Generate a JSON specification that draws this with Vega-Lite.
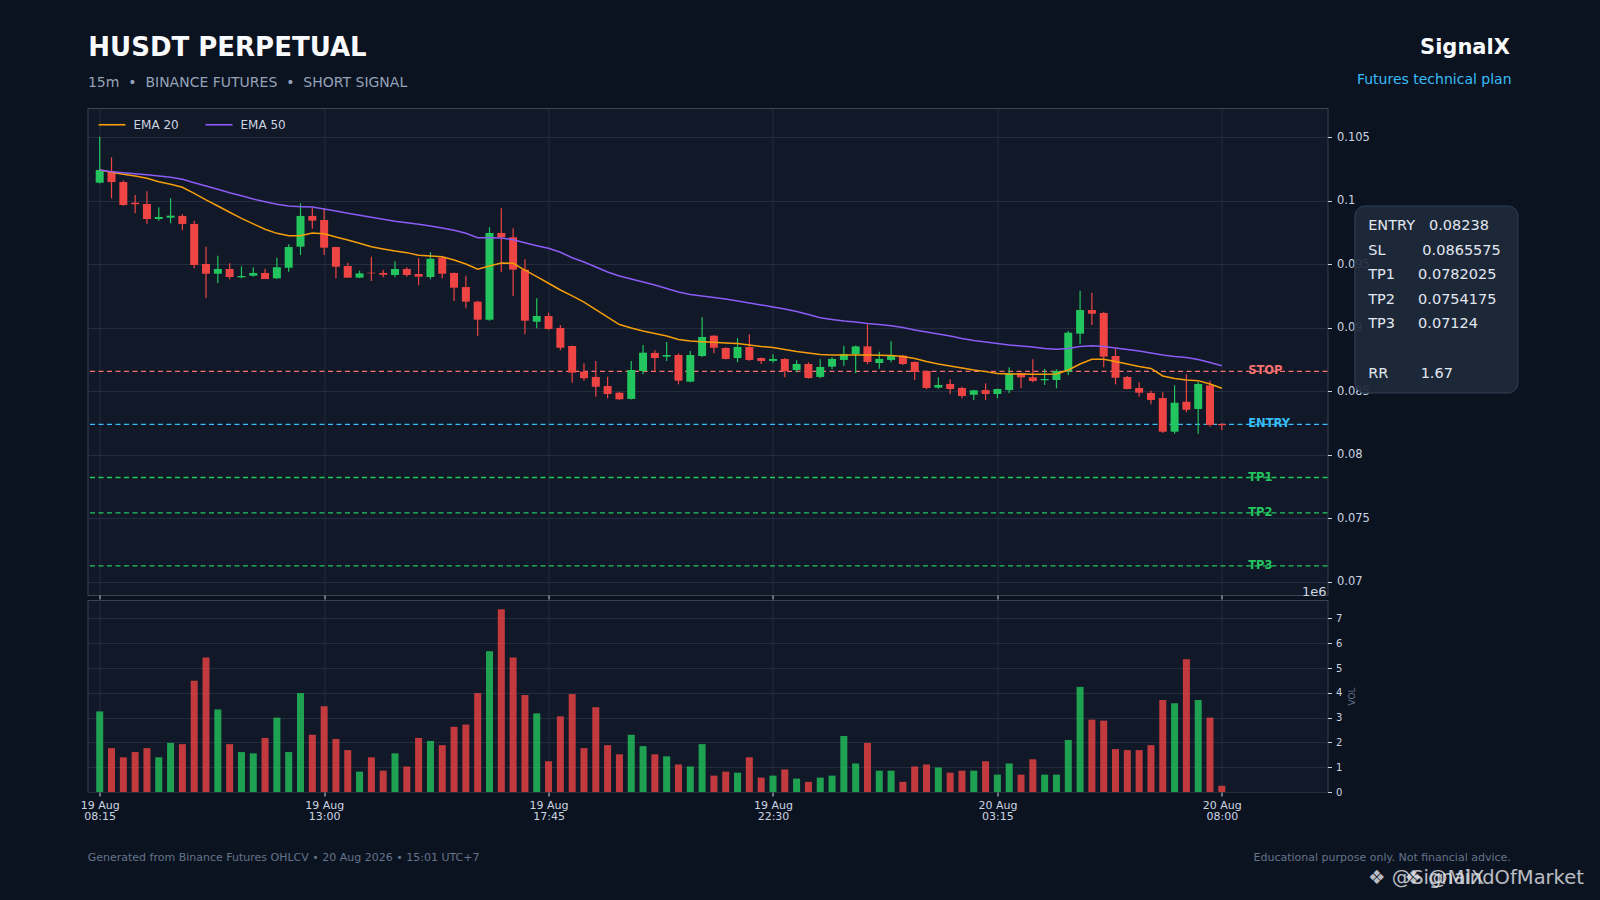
{
  "$schema": "https://vega.github.io/schema/vega-lite/v6.json",
  "background": "#0b1220",
  "padding": {"left": 79.5, "top": 34, "right": 15, "bottom": 20},
  "bounds": "flush",
  "config": {
    "font": "DejaVu Sans",
    "view": {"fill": "#111827", "stroke": "#384357", "strokeWidth": 1},
    "scale": {"continuousPadding": 0},
    "axis": {"domain": false, "gridColor": "#232d3d", "tickColor": "#cbd5e1", "tickSize": 4, "labelColor": "#cbd5e1", "labelFont": "DejaVu Sans", "titleFont": "DejaVu Sans"},
    "concat": {"spacing": 5}
  },
  "datasets": {
    "candles": [
      {"time": "2026-08-19T08:15:00Z", "open": 0.10142, "high": 0.10504, "low": 0.10135, "close": 0.10242, "volume": 3250000, "ema20": 0.10242, "ema50": 0.10242},
      {"time": "2026-08-19T08:30:00Z", "open": 0.10234, "high": 0.10342, "low": 0.10019, "close": 0.10147, "volume": 1770000, "ema20": 0.10224, "ema50": 0.10228},
      {"time": "2026-08-19T08:45:00Z", "open": 0.10147, "high": 0.1016, "low": 0.0996, "close": 0.09966, "volume": 1400000, "ema20": 0.10208, "ema50": 0.1022},
      {"time": "2026-08-19T09:00:00Z", "open": 0.09984, "high": 0.10045, "low": 0.09901, "close": 0.09972, "volume": 1610000, "ema20": 0.10194, "ema50": 0.10213},
      {"time": "2026-08-19T09:15:00Z", "open": 0.09974, "high": 0.10074, "low": 0.09819, "close": 0.09856, "volume": 1770000, "ema20": 0.10176, "ema50": 0.10205},
      {"time": "2026-08-19T09:30:00Z", "open": 0.09856, "high": 0.09948, "low": 0.09843, "close": 0.09872, "volume": 1400000, "ema20": 0.1015, "ema50": 0.10194},
      {"time": "2026-08-19T09:45:00Z", "open": 0.09866, "high": 0.10019, "low": 0.09822, "close": 0.09882, "volume": 1980000, "ema20": 0.10129, "ema50": 0.10184},
      {"time": "2026-08-19T10:00:00Z", "open": 0.0988, "high": 0.09893, "low": 0.09767, "close": 0.09817, "volume": 1930000, "ema20": 0.10106, "ema50": 0.10169},
      {"time": "2026-08-19T10:15:00Z", "open": 0.09817, "high": 0.09843, "low": 0.09468, "close": 0.09494, "volume": 4490000, "ema20": 0.10058, "ema50": 0.10142},
      {"time": "2026-08-19T10:30:00Z", "open": 0.09502, "high": 0.09638, "low": 0.09234, "close": 0.09425, "volume": 5430000, "ema20": 0.10006, "ema50": 0.10116},
      {"time": "2026-08-19T10:45:00Z", "open": 0.09425, "high": 0.09567, "low": 0.0935, "close": 0.09462, "volume": 3330000, "ema20": 0.09958, "ema50": 0.1009},
      {"time": "2026-08-19T11:00:00Z", "open": 0.09462, "high": 0.09507, "low": 0.09381, "close": 0.09399, "volume": 1930000, "ema20": 0.09909, "ema50": 0.10063},
      {"time": "2026-08-19T11:15:00Z", "open": 0.09397, "high": 0.09483, "low": 0.09389, "close": 0.09407, "volume": 1610000, "ema20": 0.09861, "ema50": 0.10039},
      {"time": "2026-08-19T11:30:00Z", "open": 0.09409, "high": 0.09476, "low": 0.09402, "close": 0.09431, "volume": 1560000, "ema20": 0.09817, "ema50": 0.10013},
      {"time": "2026-08-19T11:45:00Z", "open": 0.09431, "high": 0.09465, "low": 0.09383, "close": 0.09383, "volume": 2180000, "ema20": 0.09775, "ema50": 0.09992},
      {"time": "2026-08-19T12:00:00Z", "open": 0.09389, "high": 0.09551, "low": 0.09383, "close": 0.09476, "volume": 3000000, "ema20": 0.09743, "ema50": 0.09972},
      {"time": "2026-08-19T12:15:00Z", "open": 0.09472, "high": 0.09657, "low": 0.09441, "close": 0.09635, "volume": 1610000, "ema20": 0.09724, "ema50": 0.09958},
      {"time": "2026-08-19T12:30:00Z", "open": 0.09638, "high": 0.0998, "low": 0.09572, "close": 0.0988, "volume": 3990000, "ema20": 0.09724, "ema50": 0.09953},
      {"time": "2026-08-19T12:45:00Z", "open": 0.0988, "high": 0.09945, "low": 0.0978, "close": 0.09843, "volume": 2310000, "ema20": 0.09746, "ema50": 0.0995},
      {"time": "2026-08-19T13:00:00Z", "open": 0.09848, "high": 0.09943, "low": 0.09572, "close": 0.0963, "volume": 3460000, "ema20": 0.0974, "ema50": 0.09935},
      {"time": "2026-08-19T13:15:00Z", "open": 0.09635, "high": 0.09638, "low": 0.09389, "close": 0.0948, "volume": 2140000, "ema20": 0.09714, "ema50": 0.09919},
      {"time": "2026-08-19T13:30:00Z", "open": 0.09486, "high": 0.09512, "low": 0.09394, "close": 0.09394, "volume": 1690000, "ema20": 0.09691, "ema50": 0.09901},
      {"time": "2026-08-19T13:45:00Z", "open": 0.09394, "high": 0.09449, "low": 0.0939, "close": 0.09428, "volume": 820000, "ema20": 0.09665, "ema50": 0.09885},
      {"time": "2026-08-19T14:00:00Z", "open": 0.09433, "high": 0.09559, "low": 0.09368, "close": 0.09428, "volume": 1400000, "ema20": 0.09638, "ema50": 0.09869},
      {"time": "2026-08-19T14:15:00Z", "open": 0.09431, "high": 0.09454, "low": 0.09397, "close": 0.09417, "volume": 860000, "ema20": 0.0962, "ema50": 0.09854},
      {"time": "2026-08-19T14:30:00Z", "open": 0.09415, "high": 0.09523, "low": 0.09397, "close": 0.09462, "volume": 1560000, "ema20": 0.09604, "ema50": 0.09838},
      {"time": "2026-08-19T14:45:00Z", "open": 0.09462, "high": 0.09476, "low": 0.09402, "close": 0.09415, "volume": 1030000, "ema20": 0.09591, "ema50": 0.09827},
      {"time": "2026-08-19T15:00:00Z", "open": 0.09423, "high": 0.09546, "low": 0.09334, "close": 0.09402, "volume": 2180000, "ema20": 0.0957, "ema50": 0.09814},
      {"time": "2026-08-19T15:15:00Z", "open": 0.09399, "high": 0.09594, "low": 0.09381, "close": 0.09543, "volume": 2060000, "ema20": 0.09565, "ema50": 0.09801},
      {"time": "2026-08-19T15:30:00Z", "open": 0.09551, "high": 0.0956, "low": 0.09389, "close": 0.09425, "volume": 1890000, "ema20": 0.09559, "ema50": 0.09785},
      {"time": "2026-08-19T15:45:00Z", "open": 0.09431, "high": 0.09435, "low": 0.0921, "close": 0.09315, "volume": 2630000, "ema20": 0.09533, "ema50": 0.09767},
      {"time": "2026-08-19T16:00:00Z", "open": 0.0932, "high": 0.09409, "low": 0.09153, "close": 0.09205, "volume": 2720000, "ema20": 0.09502, "ema50": 0.09743},
      {"time": "2026-08-19T16:15:00Z", "open": 0.09205, "high": 0.09213, "low": 0.08935, "close": 0.09063, "volume": 3990000, "ema20": 0.0946, "ema50": 0.09709},
      {"time": "2026-08-19T16:30:00Z", "open": 0.09063, "high": 0.09791, "low": 0.09055, "close": 0.09746, "volume": 5680000, "ema20": 0.09486, "ema50": 0.09709},
      {"time": "2026-08-19T16:45:00Z", "open": 0.09746, "high": 0.0994, "low": 0.09439, "close": 0.09712, "volume": 7370000, "ema20": 0.09509, "ema50": 0.09706},
      {"time": "2026-08-19T17:00:00Z", "open": 0.09712, "high": 0.09783, "low": 0.0925, "close": 0.09457, "volume": 5430000, "ema20": 0.09507, "ema50": 0.09693},
      {"time": "2026-08-19T17:15:00Z", "open": 0.09457, "high": 0.09539, "low": 0.08948, "close": 0.09055, "volume": 3910000, "ema20": 0.09454, "ema50": 0.09669},
      {"time": "2026-08-19T17:30:00Z", "open": 0.09047, "high": 0.09231, "low": 0.08995, "close": 0.09092, "volume": 3170000, "ema20": 0.09402, "ema50": 0.09646},
      {"time": "2026-08-19T17:45:00Z", "open": 0.09092, "high": 0.09118, "low": 0.08982, "close": 0.0899, "volume": 1240000, "ema20": 0.0935, "ema50": 0.09625},
      {"time": "2026-08-19T18:00:00Z", "open": 0.08998, "high": 0.09021, "low": 0.08822, "close": 0.08842, "volume": 3050000, "ema20": 0.09297, "ema50": 0.09594},
      {"time": "2026-08-19T18:15:00Z", "open": 0.08856, "high": 0.0886, "low": 0.08567, "close": 0.08646, "volume": 3950000, "ema20": 0.0925, "ema50": 0.09551},
      {"time": "2026-08-19T18:30:00Z", "open": 0.08654, "high": 0.0872, "low": 0.08583, "close": 0.08602, "volume": 1770000, "ema20": 0.09202, "ema50": 0.09517},
      {"time": "2026-08-19T18:45:00Z", "open": 0.08612, "high": 0.08738, "low": 0.08457, "close": 0.08535, "volume": 3420000, "ema20": 0.09143, "ema50": 0.09478},
      {"time": "2026-08-19T19:00:00Z", "open": 0.08541, "high": 0.08614, "low": 0.08444, "close": 0.08478, "volume": 1890000, "ema20": 0.09084, "ema50": 0.09439},
      {"time": "2026-08-19T19:15:00Z", "open": 0.08488, "high": 0.08496, "low": 0.08431, "close": 0.08436, "volume": 1520000, "ema20": 0.09025, "ema50": 0.09407},
      {"time": "2026-08-19T19:30:00Z", "open": 0.08439, "high": 0.08738, "low": 0.08435, "close": 0.08667, "volume": 2310000, "ema20": 0.08998, "ema50": 0.09383},
      {"time": "2026-08-19T19:45:00Z", "open": 0.08659, "high": 0.08864, "low": 0.08633, "close": 0.08803, "volume": 1850000, "ema20": 0.08974, "ema50": 0.0936},
      {"time": "2026-08-19T20:00:00Z", "open": 0.08801, "high": 0.08822, "low": 0.08649, "close": 0.08761, "volume": 1520000, "ema20": 0.08954, "ema50": 0.09336},
      {"time": "2026-08-19T20:15:00Z", "open": 0.08772, "high": 0.08887, "low": 0.08738, "close": 0.08785, "volume": 1440000, "ema20": 0.08935, "ema50": 0.09309},
      {"time": "2026-08-19T20:30:00Z", "open": 0.08785, "high": 0.08798, "low": 0.08554, "close": 0.08583, "volume": 1110000, "ema20": 0.08907, "ema50": 0.09281},
      {"time": "2026-08-19T20:45:00Z", "open": 0.08575, "high": 0.08817, "low": 0.0857, "close": 0.08785, "volume": 1030000, "ema20": 0.08895, "ema50": 0.09261},
      {"time": "2026-08-19T21:00:00Z", "open": 0.08777, "high": 0.09082, "low": 0.0877, "close": 0.08927, "volume": 1930000, "ema20": 0.0889, "ema50": 0.0925},
      {"time": "2026-08-19T21:15:00Z", "open": 0.08937, "high": 0.0894, "low": 0.08798, "close": 0.08842, "volume": 660000, "ema20": 0.08885, "ema50": 0.09238},
      {"time": "2026-08-19T21:30:00Z", "open": 0.0884, "high": 0.08845, "low": 0.0875, "close": 0.08754, "volume": 820000, "ema20": 0.0888, "ema50": 0.09226},
      {"time": "2026-08-19T21:45:00Z", "open": 0.08761, "high": 0.08917, "low": 0.08728, "close": 0.08848, "volume": 780000, "ema20": 0.08876, "ema50": 0.0921},
      {"time": "2026-08-19T22:00:00Z", "open": 0.08848, "high": 0.08948, "low": 0.0874, "close": 0.08746, "volume": 1400000, "ema20": 0.08864, "ema50": 0.09194},
      {"time": "2026-08-19T22:15:00Z", "open": 0.08761, "high": 0.08765, "low": 0.08714, "close": 0.08738, "volume": 580000, "ema20": 0.08852, "ema50": 0.09179},
      {"time": "2026-08-19T22:30:00Z", "open": 0.08738, "high": 0.08791, "low": 0.08724, "close": 0.08754, "volume": 660000, "ema20": 0.08844, "ema50": 0.09163},
      {"time": "2026-08-19T22:45:00Z", "open": 0.08754, "high": 0.0876, "low": 0.08609, "close": 0.08659, "volume": 910000, "ema20": 0.08828, "ema50": 0.09147},
      {"time": "2026-08-19T23:00:00Z", "open": 0.08667, "high": 0.08743, "low": 0.08649, "close": 0.08714, "volume": 540000, "ema20": 0.08813, "ema50": 0.09128},
      {"time": "2026-08-19T23:15:00Z", "open": 0.08714, "high": 0.08727, "low": 0.08598, "close": 0.08604, "volume": 410000, "ema20": 0.08801, "ema50": 0.09104},
      {"time": "2026-08-19T23:30:00Z", "open": 0.08612, "high": 0.08751, "low": 0.08602, "close": 0.08691, "volume": 580000, "ema20": 0.08789, "ema50": 0.09079},
      {"time": "2026-08-19T23:45:00Z", "open": 0.08693, "high": 0.08767, "low": 0.08672, "close": 0.08754, "volume": 660000, "ema20": 0.08785, "ema50": 0.09065},
      {"time": "2026-08-20T00:00:00Z", "open": 0.08746, "high": 0.08858, "low": 0.08701, "close": 0.08793, "volume": 2260000, "ema20": 0.08785, "ema50": 0.09053},
      {"time": "2026-08-20T00:15:00Z", "open": 0.08793, "high": 0.0886, "low": 0.08641, "close": 0.08853, "volume": 1150000, "ema20": 0.08785, "ema50": 0.09045},
      {"time": "2026-08-20T00:30:00Z", "open": 0.08853, "high": 0.09027, "low": 0.08712, "close": 0.0873, "volume": 1980000, "ema20": 0.08785, "ema50": 0.09033},
      {"time": "2026-08-20T00:45:00Z", "open": 0.08722, "high": 0.08811, "low": 0.08677, "close": 0.08754, "volume": 860000, "ema20": 0.08783, "ema50": 0.09025},
      {"time": "2026-08-20T01:00:00Z", "open": 0.08746, "high": 0.08893, "low": 0.08728, "close": 0.0878, "volume": 860000, "ema20": 0.08781, "ema50": 0.09016},
      {"time": "2026-08-20T01:15:00Z", "open": 0.0878, "high": 0.08785, "low": 0.08706, "close": 0.08714, "volume": 410000, "ema20": 0.08773, "ema50": 0.09002},
      {"time": "2026-08-20T01:30:00Z", "open": 0.0873, "high": 0.08735, "low": 0.08588, "close": 0.08651, "volume": 1030000, "ema20": 0.08757, "ema50": 0.08982},
      {"time": "2026-08-20T01:45:00Z", "open": 0.08659, "high": 0.0866, "low": 0.08515, "close": 0.08525, "volume": 1110000, "ema20": 0.08734, "ema50": 0.08966},
      {"time": "2026-08-20T02:00:00Z", "open": 0.08528, "high": 0.0861, "low": 0.0852, "close": 0.08549, "volume": 990000, "ema20": 0.08714, "ema50": 0.0895},
      {"time": "2026-08-20T02:15:00Z", "open": 0.08557, "high": 0.08594, "low": 0.08478, "close": 0.08517, "volume": 780000, "ema20": 0.08698, "ema50": 0.08935},
      {"time": "2026-08-20T02:30:00Z", "open": 0.08525, "high": 0.08535, "low": 0.08444, "close": 0.08462, "volume": 860000, "ema20": 0.08683, "ema50": 0.08915},
      {"time": "2026-08-20T02:45:00Z", "open": 0.08472, "high": 0.0851, "low": 0.08431, "close": 0.08507, "volume": 860000, "ema20": 0.08667, "ema50": 0.08899},
      {"time": "2026-08-20T03:00:00Z", "open": 0.08509, "high": 0.08562, "low": 0.08431, "close": 0.08478, "volume": 1240000, "ema20": 0.08654, "ema50": 0.08887},
      {"time": "2026-08-20T03:15:00Z", "open": 0.08478, "high": 0.0852, "low": 0.08444, "close": 0.08517, "volume": 700000, "ema20": 0.08639, "ema50": 0.08876},
      {"time": "2026-08-20T03:30:00Z", "open": 0.08509, "high": 0.08688, "low": 0.08483, "close": 0.08641, "volume": 1150000, "ema20": 0.08635, "ema50": 0.08864},
      {"time": "2026-08-20T03:45:00Z", "open": 0.08641, "high": 0.08645, "low": 0.08523, "close": 0.08609, "volume": 700000, "ema20": 0.08635, "ema50": 0.08856},
      {"time": "2026-08-20T04:00:00Z", "open": 0.08609, "high": 0.08751, "low": 0.0857, "close": 0.0858, "volume": 1320000, "ema20": 0.08633, "ema50": 0.08848},
      {"time": "2026-08-20T04:15:00Z", "open": 0.08586, "high": 0.08677, "low": 0.08549, "close": 0.08596, "volume": 700000, "ema20": 0.08633, "ema50": 0.08836},
      {"time": "2026-08-20T04:30:00Z", "open": 0.08588, "high": 0.08672, "low": 0.08523, "close": 0.08659, "volume": 700000, "ema20": 0.08635, "ema50": 0.0883},
      {"time": "2026-08-20T04:45:00Z", "open": 0.08654, "high": 0.08974, "low": 0.08628, "close": 0.08961, "volume": 2100000, "ema20": 0.08667, "ema50": 0.08836},
      {"time": "2026-08-20T05:00:00Z", "open": 0.08953, "high": 0.09291, "low": 0.08869, "close": 0.09139, "volume": 4240000, "ema20": 0.08714, "ema50": 0.08852},
      {"time": "2026-08-20T05:15:00Z", "open": 0.09139, "high": 0.09276, "low": 0.09021, "close": 0.0911, "volume": 2920000, "ema20": 0.08751, "ema50": 0.08858},
      {"time": "2026-08-20T05:30:00Z", "open": 0.09116, "high": 0.09126, "low": 0.08688, "close": 0.08772, "volume": 2880000, "ema20": 0.08751, "ema50": 0.08852},
      {"time": "2026-08-20T05:45:00Z", "open": 0.08777, "high": 0.08832, "low": 0.08554, "close": 0.08606, "volume": 1730000, "ema20": 0.08734, "ema50": 0.0884},
      {"time": "2026-08-20T06:00:00Z", "open": 0.08612, "high": 0.0862, "low": 0.08515, "close": 0.08517, "volume": 1690000, "ema20": 0.08714, "ema50": 0.08828},
      {"time": "2026-08-20T06:15:00Z", "open": 0.08525, "high": 0.0857, "low": 0.08457, "close": 0.08488, "volume": 1690000, "ema20": 0.08694, "ema50": 0.08817},
      {"time": "2026-08-20T06:30:00Z", "open": 0.08486, "high": 0.08504, "low": 0.08397, "close": 0.08431, "volume": 1890000, "ema20": 0.08679, "ema50": 0.08801},
      {"time": "2026-08-20T06:45:00Z", "open": 0.08446, "high": 0.08491, "low": 0.08171, "close": 0.08181, "volume": 3710000, "ema20": 0.0862, "ema50": 0.08785},
      {"time": "2026-08-20T07:00:00Z", "open": 0.08181, "high": 0.08546, "low": 0.08165, "close": 0.08409, "volume": 3580000, "ema20": 0.086, "ema50": 0.08773},
      {"time": "2026-08-20T07:15:00Z", "open": 0.08417, "high": 0.08633, "low": 0.08334, "close": 0.08354, "volume": 5350000, "ema20": 0.08588, "ema50": 0.08765},
      {"time": "2026-08-20T07:30:00Z", "open": 0.0836, "high": 0.08572, "low": 0.08165, "close": 0.08557, "volume": 3710000, "ema20": 0.08583, "ema50": 0.0875},
      {"time": "2026-08-20T07:45:00Z", "open": 0.08546, "high": 0.08583, "low": 0.0822, "close": 0.08234, "volume": 3000000, "ema20": 0.08557, "ema50": 0.08726},
      {"time": "2026-08-20T08:00:00Z", "open": 0.08242, "high": 0.08247, "low": 0.08195, "close": 0.08232, "volume": 250000, "ema20": 0.08523, "ema50": 0.08701}
    ],
    "levels": [
      {"level": "STOP", "kind": "stop", "price": 0.0865575},
      {"level": "ENTRY", "kind": "entry", "price": 0.08238},
      {"level": "TP1", "kind": "tp", "price": 0.0782025},
      {"level": "TP2", "kind": "tp", "price": 0.0754175},
      {"level": "TP3", "kind": "tp", "price": 0.07124}
    ]
  },
  "vconcat": [
    {
      "width": 1240,
      "height": 487,
      "data": {"name": "candles"},
      "resolve": {"axis": {"x": "independent", "y": "independent"}},
      "layer": [
        {
          "data": {"name": "levels"},
          "mark": {"type": "rule", "strokeDash": [5, 3.5], "strokeWidth": 1.3},
          "encoding": {
            "y": {"field": "price", "type": "quantitative", "title": null,
                  "scale": {"domain": [0.06895, 0.1073], "nice": false, "zero": false},
                  "axis": {"orient": "right", "values": [0.07, 0.075, 0.08, 0.085, 0.09, 0.095, 0.1, 0.105], "format": "~g", "labelFontSize": 11.5, "labelPadding": 5, "grid": true}},
            "stroke": {"field": "kind", "type": "nominal", "legend": null,
                       "scale": {"domain": ["stop", "entry", "tp"], "range": ["#f87171", "#38bdf8", "#22c55e"]}}
          }
        },
        {
          "mark": {"type": "rule", "strokeWidth": 1.2},
          "encoding": {
            "x": {"field": "time", "type": "temporal", "title": null,
                  "scale": {"type": "utc", "domain": [{"year": 2026, "month": 8, "date": 19, "hours": 7, "minutes": 59, "seconds": 30, "utc": true}, {"year": 2026, "month": 8, "date": 20, "hours": 10, "minutes": 14, "seconds": 12, "utc": true}]},
                  "axis": {"labels": false, "grid": true, "ticks": true,
                           "values": [{"year": 2026, "month": 8, "date": 19, "hours": 8, "minutes": 15, "utc": true}, {"year": 2026, "month": 8, "date": 19, "hours": 13, "minutes": 0, "utc": true}, {"year": 2026, "month": 8, "date": 19, "hours": 17, "minutes": 45, "utc": true}, {"year": 2026, "month": 8, "date": 19, "hours": 22, "minutes": 30, "utc": true}, {"year": 2026, "month": 8, "date": 20, "hours": 3, "minutes": 15, "utc": true}, {"year": 2026, "month": 8, "date": 20, "hours": 8, "minutes": 0, "utc": true}]}},
            "y": {"field": "low", "type": "quantitative", "title": null, "axis": null,
                  "scale": {"domain": [0.06895, 0.1073], "nice": false, "zero": false}},
            "y2": {"field": "high"},
            "color": {"condition": {"test": "datum.close >= datum.open", "value": "#22c55e"}, "value": "#ef4444"}
          }
        },
        {
          "mark": {"type": "bar", "size": 8},
          "encoding": {
            "x": {"field": "time", "type": "temporal", "axis": null,
                  "scale": {"type": "utc", "domain": [{"year": 2026, "month": 8, "date": 19, "hours": 7, "minutes": 59, "seconds": 30, "utc": true}, {"year": 2026, "month": 8, "date": 20, "hours": 10, "minutes": 14, "seconds": 12, "utc": true}]}},
            "y": {"field": "open", "type": "quantitative", "title": null, "axis": null,
                  "scale": {"domain": [0.06895, 0.1073], "nice": false, "zero": false}},
            "y2": {"field": "close"},
            "color": {"condition": {"test": "datum.close >= datum.open", "value": "#22c55e"}, "value": "#ef4444"}
          }
        },
        {
          "transform": [{"fold": ["ema20", "ema50"], "as": ["series", "ema"]}],
          "mark": {"type": "line", "strokeWidth": 1.5},
          "encoding": {
            "x": {"field": "time", "type": "temporal", "axis": null,
                  "scale": {"type": "utc", "domain": [{"year": 2026, "month": 8, "date": 19, "hours": 7, "minutes": 59, "seconds": 30, "utc": true}, {"year": 2026, "month": 8, "date": 20, "hours": 10, "minutes": 14, "seconds": 12, "utc": true}]}},
            "y": {"field": "ema", "type": "quantitative", "title": null, "axis": null,
                  "scale": {"domain": [0.06895, 0.1073], "nice": false, "zero": false}},
            "color": {"field": "series", "type": "nominal",
                      "scale": {"domain": ["ema20", "ema50"], "range": ["#f59e0b", "#8b5cf6"]},
                      "legend": {"title": null, "orient": "none", "legendX": 10, "legendY": 2, "direction": "horizontal",
                                 "symbolType": "stroke", "symbolSize": 729, "symbolStrokeWidth": 1.6,
                                 "labelColor": "#cbd5e1", "labelFontSize": 12, "labelOffset": 7, "columnPadding": 22,
                                 "labelExpr": "datum.label == 'ema20' ? 'EMA 20' : 'EMA 50'"}}
          }
        },
        {
          "data": {"name": "levels"},
          "mark": {"type": "text", "align": "left", "baseline": "middle", "fontWeight": "bold", "fontSize": 11.5},
          "encoding": {
            "x": {"datum": {"year": 2026, "month": 8, "date": 20, "hours": 8, "minutes": 33, "seconds": 30, "utc": true}, "type": "temporal", "axis": null,
                  "scale": {"type": "utc", "domain": [{"year": 2026, "month": 8, "date": 19, "hours": 7, "minutes": 59, "seconds": 30, "utc": true}, {"year": 2026, "month": 8, "date": 20, "hours": 10, "minutes": 14, "seconds": 12, "utc": true}]}},
            "y": {"field": "price", "type": "quantitative", "title": null, "axis": null,
                  "scale": {"domain": [0.06895, 0.1073], "nice": false, "zero": false}},
            "text": {"field": "level"},
            "fill": {"field": "kind", "type": "nominal", "legend": null,
                     "scale": {"domain": ["stop", "entry", "tp"], "range": ["#f87171", "#38bdf8", "#22c55e"]}}
          }
        },
        {
          "data": {"values": [{}]},
          "mark": {"type": "rect", "cornerRadius": 10, "fill": "#1e293b", "fillOpacity": 0.92, "stroke": "#334155", "strokeWidth": 1},
          "encoding": {
            "x": {"datum": {"year": 2026, "month": 8, "date": 20, "hours": 10, "minutes": 49, "utc": true}, "type": "temporal", "axis": null,
                  "scale": {"type": "utc", "domain": [{"year": 2026, "month": 8, "date": 19, "hours": 7, "minutes": 59, "seconds": 30, "utc": true}, {"year": 2026, "month": 8, "date": 20, "hours": 10, "minutes": 14, "seconds": 12, "utc": true}]}},
            "x2": {"datum": {"year": 2026, "month": 8, "date": 20, "hours": 14, "minutes": 16, "utc": true}},
            "y": {"datum": 0.09958, "type": "quantitative", "title": null, "axis": null,
                  "scale": {"domain": [0.06895, 0.1073], "nice": false, "zero": false}},
            "y2": {"datum": 0.08486}
          }
        },
        {
          "data": {"values": [{}]},
          "mark": {"type": "text", "align": "left", "baseline": "alphabetic", "fontSize": 14.5, "lineHeight": 24.6, "fill": "#e2e8f0"},
          "encoding": {
            "x": {"datum": {"year": 2026, "month": 8, "date": 20, "hours": 11, "minutes": 5, "seconds": 54, "utc": true}, "type": "temporal", "axis": null,
                  "scale": {"type": "utc", "domain": [{"year": 2026, "month": 8, "date": 19, "hours": 7, "minutes": 59, "seconds": 30, "utc": true}, {"year": 2026, "month": 8, "date": 20, "hours": 10, "minutes": 14, "seconds": 12, "utc": true}]}},
            "y": {"datum": 0.09769, "type": "quantitative", "title": null, "axis": null,
                  "scale": {"domain": [0.06895, 0.1073], "nice": false, "zero": false}},
            "text": {"value": ["ENTRY\u00a0\u00a0\u00a00.08238", "SL\u00a0\u00a0\u00a0\u00a0\u00a0\u00a0\u00a0\u00a00.0865575", "TP1\u00a0\u00a0\u00a0\u00a0\u00a00.0782025", "TP2\u00a0\u00a0\u00a0\u00a0\u00a00.0754175", "TP3\u00a0\u00a0\u00a0\u00a0\u00a00.07124"]}
          }
        },
        {
          "data": {"values": [{}]},
          "mark": {"type": "text", "align": "left", "baseline": "alphabetic", "fontSize": 14.5, "fill": "#e2e8f0"},
          "encoding": {
            "x": {"datum": {"year": 2026, "month": 8, "date": 20, "hours": 11, "minutes": 5, "seconds": 54, "utc": true}, "type": "temporal", "axis": null,
                  "scale": {"type": "utc", "domain": [{"year": 2026, "month": 8, "date": 19, "hours": 7, "minutes": 59, "seconds": 30, "utc": true}, {"year": 2026, "month": 8, "date": 20, "hours": 10, "minutes": 14, "seconds": 12, "utc": true}]}},
            "y": {"datum": 0.08602, "type": "quantitative", "title": null, "axis": null,
                  "scale": {"domain": [0.06895, 0.1073], "nice": false, "zero": false}},
            "text": {"value": "RR\u00a0\u00a0\u00a0\u00a0\u00a0\u00a0\u00a01.67"}
          }
        },
        {
          "data": {"values": [{}]},
          "mark": {"type": "text", "align": "left", "baseline": "alphabetic", "fontSize": 26, "fontWeight": "bold", "fill": "#f8fafc"},
          "encoding": {
            "x": {"datum": {"year": 2026, "month": 8, "date": 19, "hours": 8, "minutes": 0, "seconds": 30, "utc": true}, "type": "temporal", "axis": null,
                  "scale": {"type": "utc", "domain": [{"year": 2026, "month": 8, "date": 19, "hours": 7, "minutes": 59, "seconds": 30, "utc": true}, {"year": 2026, "month": 8, "date": 20, "hours": 10, "minutes": 14, "seconds": 12, "utc": true}]}},
            "y": {"datum": 0.11137, "type": "quantitative", "title": null, "axis": null,
                  "scale": {"domain": [0.06895, 0.1073], "nice": false, "zero": false}},
            "text": {"value": "HUSDT PERPETUAL"}
          }
        },
        {
          "data": {"values": [{}]},
          "mark": {"type": "text", "align": "left", "baseline": "alphabetic", "fontSize": 14, "fill": "#94a3b8"},
          "encoding": {
            "x": {"datum": {"year": 2026, "month": 8, "date": 19, "hours": 8, "minutes": 0, "seconds": 0, "utc": true}, "type": "temporal", "axis": null,
                  "scale": {"type": "utc", "domain": [{"year": 2026, "month": 8, "date": 19, "hours": 7, "minutes": 59, "seconds": 30, "utc": true}, {"year": 2026, "month": 8, "date": 20, "hours": 10, "minutes": 14, "seconds": 12, "utc": true}]}},
            "y": {"datum": 0.10899, "type": "quantitative", "title": null, "axis": null,
                  "scale": {"domain": [0.06895, 0.1073], "nice": false, "zero": false}},
            "text": {"value": "15m\u00a0\u00a0•\u00a0\u00a0BINANCE FUTURES\u00a0\u00a0•\u00a0\u00a0SHORT SIGNAL"}
          }
        },
        {
          "data": {"values": [{}]},
          "mark": {"type": "text", "align": "right", "baseline": "alphabetic", "fontSize": 21, "fontWeight": "bold", "fill": "#f8fafc"},
          "encoding": {
            "x": {"datum": {"year": 2026, "month": 8, "date": 20, "hours": 14, "minutes": 5, "seconds": 50, "utc": true}, "type": "temporal", "axis": null,
                  "scale": {"type": "utc", "domain": [{"year": 2026, "month": 8, "date": 19, "hours": 7, "minutes": 59, "seconds": 30, "utc": true}, {"year": 2026, "month": 8, "date": 20, "hours": 10, "minutes": 14, "seconds": 12, "utc": true}]}},
            "y": {"datum": 0.11153, "type": "quantitative", "title": null, "axis": null,
                  "scale": {"domain": [0.06895, 0.1073], "nice": false, "zero": false}},
            "text": {"value": "SignalX"}
          }
        },
        {
          "data": {"values": [{}]},
          "mark": {"type": "text", "align": "right", "baseline": "alphabetic", "fontSize": 14, "fill": "#38bdf8"},
          "encoding": {
            "x": {"datum": {"year": 2026, "month": 8, "date": 20, "hours": 14, "minutes": 7, "seconds": 54, "utc": true}, "type": "temporal", "axis": null,
                  "scale": {"type": "utc", "domain": [{"year": 2026, "month": 8, "date": 19, "hours": 7, "minutes": 59, "seconds": 30, "utc": true}, {"year": 2026, "month": 8, "date": 20, "hours": 10, "minutes": 14, "seconds": 12, "utc": true}]}},
            "y": {"datum": 0.10916, "type": "quantitative", "title": null, "axis": null,
                  "scale": {"domain": [0.06895, 0.1073], "nice": false, "zero": false}},
            "text": {"value": "Futures technical plan"}
          }
        },
        {
          "data": {"values": [{}]},
          "mark": {"type": "text", "align": "right", "baseline": "alphabetic", "fontSize": 13, "fill": "#cbd5e1", "dx": -1},
          "encoding": {
            "x": {"datum": {"year": 2026, "month": 8, "date": 20, "hours": 10, "minutes": 14, "seconds": 12, "utc": true}, "type": "temporal", "axis": null,
                  "scale": {"type": "utc", "domain": [{"year": 2026, "month": 8, "date": 19, "hours": 7, "minutes": 59, "seconds": 30, "utc": true}, {"year": 2026, "month": 8, "date": 20, "hours": 10, "minutes": 14, "seconds": 12, "utc": true}]}},
            "y": {"datum": 0.06886, "type": "quantitative", "title": null, "axis": null,
                  "scale": {"domain": [0.06895, 0.1073], "nice": false, "zero": false}},
            "text": {"value": "1e6"}
          }
        }
      ]
    },
    {
      "width": 1240,
      "height": 192,
      "data": {"name": "candles"},
      "resolve": {"axis": {"x": "independent", "y": "independent"}},
      "layer": [
        {
          "mark": {"type": "bar", "size": 7, "opacity": 0.8},
          "encoding": {
            "x": {"field": "time", "type": "temporal", "title": null,
                  "scale": {"type": "utc", "domain": [{"year": 2026, "month": 8, "date": 19, "hours": 7, "minutes": 59, "seconds": 30, "utc": true}, {"year": 2026, "month": 8, "date": 20, "hours": 10, "minutes": 14, "seconds": 12, "utc": true}]},
                  "axis": {"grid": true, "labelFontSize": 11, "labelLineHeight": 11.5, "labelPadding": 3,
                           "labelExpr": "[utcFormat(datum.value, '%d %b'), utcFormat(datum.value, '%H:%M')]",
                           "values": [{"year": 2026, "month": 8, "date": 19, "hours": 8, "minutes": 15, "utc": true}, {"year": 2026, "month": 8, "date": 19, "hours": 13, "minutes": 0, "utc": true}, {"year": 2026, "month": 8, "date": 19, "hours": 17, "minutes": 45, "utc": true}, {"year": 2026, "month": 8, "date": 19, "hours": 22, "minutes": 30, "utc": true}, {"year": 2026, "month": 8, "date": 20, "hours": 3, "minutes": 15, "utc": true}, {"year": 2026, "month": 8, "date": 20, "hours": 8, "minutes": 0, "utc": true}]}},
            "y": {"field": "volume", "type": "quantitative",
                  "scale": {"domain": [0, 7745000], "nice": false, "zero": false},
                  "axis": {"orient": "right", "title": "VOL", "titleColor": "#64748b", "titleFontSize": 9, "titleFontWeight": "normal", "titleAngle": 270, "titlePadding": 15,
                           "values": [0, 1000000, 2000000, 3000000, 4000000, 5000000, 6000000, 7000000], "labelExpr": "datum.value / 1000000", "labelFontSize": 10, "labelPadding": 4, "grid": true}},
            "color": {"condition": {"test": "datum.close >= datum.open", "value": "#22c55e"}, "value": "#ef4444"}
          }
        },
        {
          "data": {"values": [{}]},
          "mark": {"type": "text", "align": "left", "baseline": "middle", "fontSize": 11, "fill": "#64748b"},
          "encoding": {
            "x": {"datum": {"year": 2026, "month": 8, "date": 19, "hours": 7, "minutes": 59, "seconds": 46, "utc": true}, "type": "temporal", "axis": null,
                  "scale": {"type": "utc", "domain": [{"year": 2026, "month": 8, "date": 19, "hours": 7, "minutes": 59, "seconds": 30, "utc": true}, {"year": 2026, "month": 8, "date": 20, "hours": 10, "minutes": 14, "seconds": 12, "utc": true}]}},
            "y": {"datum": -2660000, "type": "quantitative", "title": null, "axis": null,
                  "scale": {"domain": [0, 7745000], "nice": false, "zero": false}},
            "text": {"value": "Generated from Binance Futures OHLCV • 20 Aug 2026 • 15:01 UTC+7"}
          }
        },
        {
          "data": {"values": [{}]},
          "mark": {"type": "text", "align": "right", "baseline": "middle", "fontSize": 11, "fill": "#64748b"},
          "encoding": {
            "x": {"datum": {"year": 2026, "month": 8, "date": 20, "hours": 14, "minutes": 7, "utc": true}, "type": "temporal", "axis": null,
                  "scale": {"type": "utc", "domain": [{"year": 2026, "month": 8, "date": 19, "hours": 7, "minutes": 59, "seconds": 30, "utc": true}, {"year": 2026, "month": 8, "date": 20, "hours": 10, "minutes": 14, "seconds": 12, "utc": true}]}},
            "y": {"datum": -2660000, "type": "quantitative", "title": null, "axis": null,
                  "scale": {"domain": [0, 7745000], "nice": false, "zero": false}},
            "text": {"value": "Educational purpose only. Not financial advice."}
          }
        },
        {
          "data": {"values": [
            {"tag": "❖\u00a0@SignalX", "at": "2026-08-20T11:05:36Z"},
            {"tag": "❖\u00a0@MindOfMarket", "at": "2026-08-20T11:51:54Z"}
          ]},
          "mark": {"type": "text", "align": "left", "baseline": "middle", "fontSize": 19.5, "fill": "#e5e7eb", "opacity": 0.8},
          "encoding": {
            "x": {"field": "at", "type": "temporal", "axis": null,
                  "scale": {"type": "utc", "domain": [{"year": 2026, "month": 8, "date": 19, "hours": 7, "minutes": 59, "seconds": 30, "utc": true}, {"year": 2026, "month": 8, "date": 20, "hours": 10, "minutes": 14, "seconds": 12, "utc": true}]}},
            "y": {"datum": -3470000, "type": "quantitative", "title": null, "axis": null,
                  "scale": {"domain": [0, 7745000], "nice": false, "zero": false}},
            "text": {"field": "tag"}
          }
        }
      ]
    }
  ]
}
